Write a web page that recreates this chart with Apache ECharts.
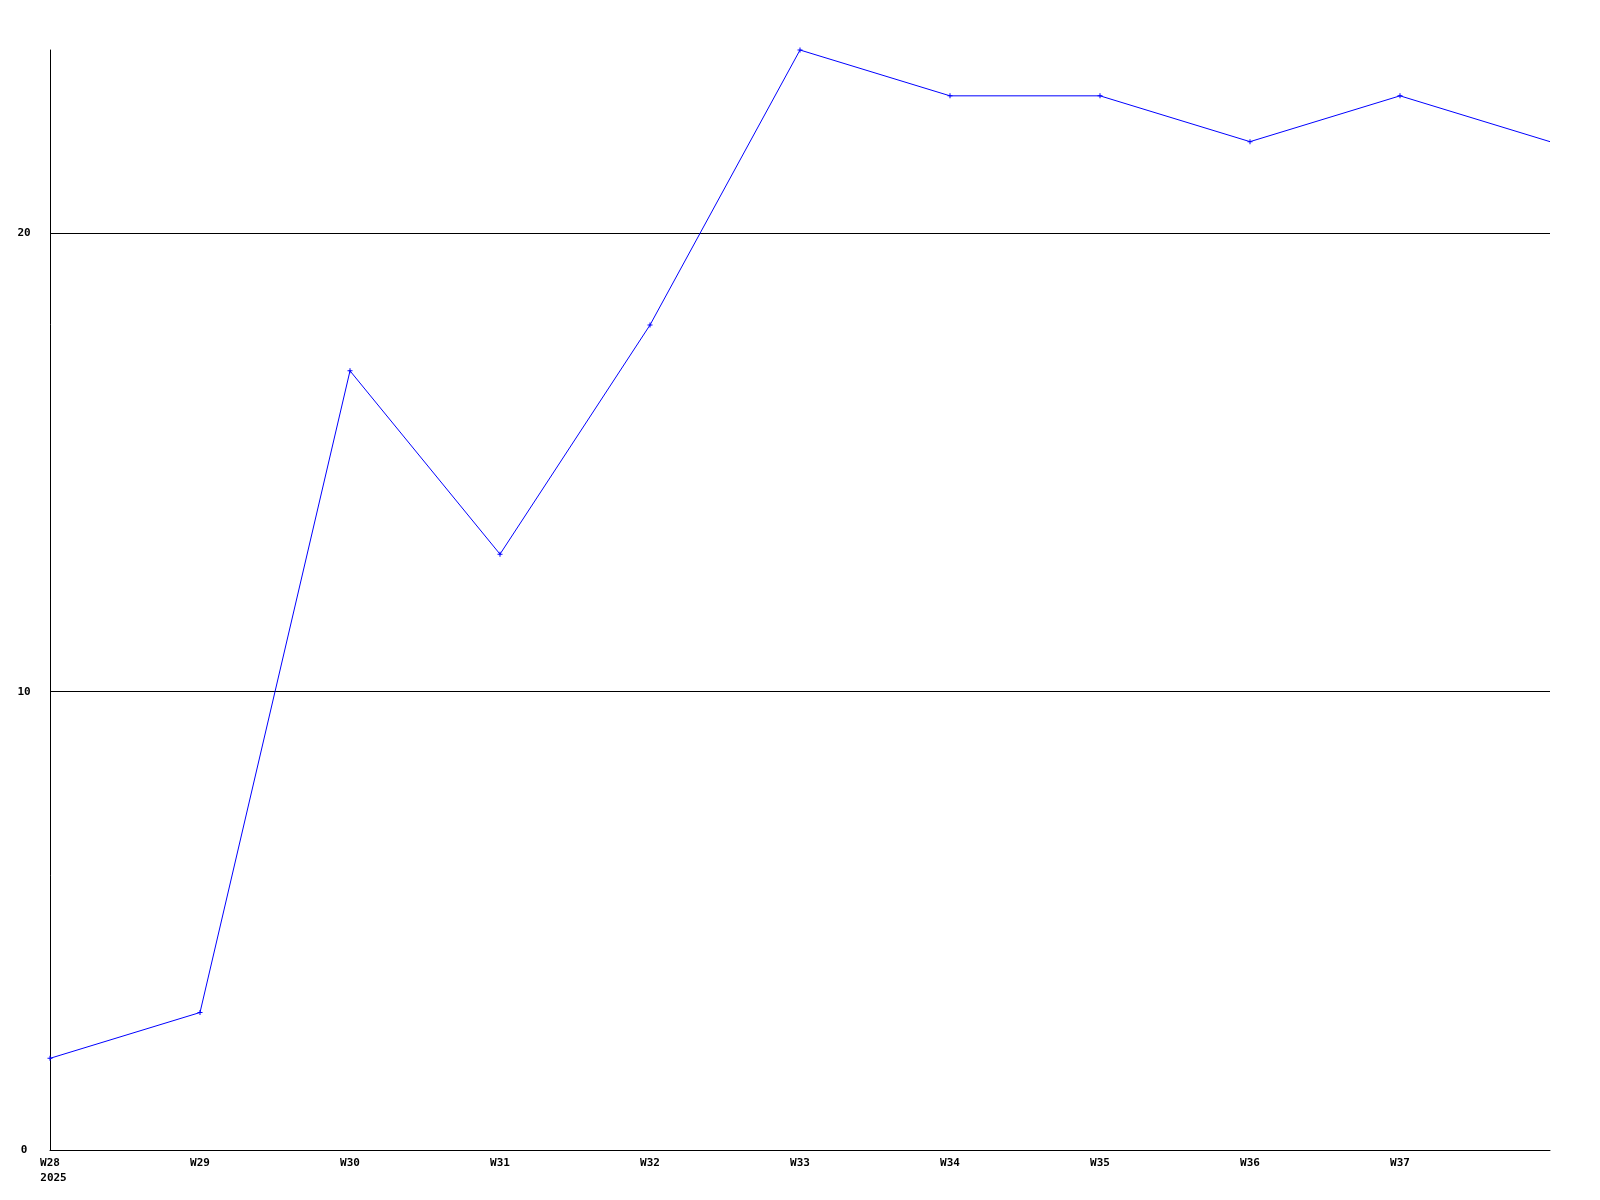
<!DOCTYPE html>
<html>
<head>
<meta charset="utf-8">
<script src="https://cdn.jsdelivr.net/npm/echarts@6/dist/echarts.min.js"></script>
<style>html,body{margin:0;padding:0;background:#fff}#c{width:1600px;height:1200px}</style>
</head>
<body>
<div id="c"></div>
<script>
const categories = ['W28','W29','W30','W31','W32','W33','W34','W35','W36','W37','W38'];
const tickLabels = ['W28\n2025','W29','W30','W31','W32','W33','W34','W35','W36','W37',''];
const values = [2, 3, 17, 13, 18, 24, 23, 23, 22, 23, 22];
const yTicks = [0, 10, 20];

const chart = echarts.init(document.getElementById('c'), null, {renderer: 'canvas'});
const plus = 'path://M2,0L3,0L3,2L5,2L5,3L3,3L3,5L2,5L2,3L0,3L0,2L2,2Z';
const font = {fontFamily: 'DejaVu Sans Mono', fontWeight: 'bold', fontSize: 11, color: '#000'};
chart.setOption({
  animation: false,
  backgroundColor: '#fff',
  grid: {left: 50, right: 50, top: 50, bottom: 50, containLabel: false},
  xAxis: {
    type: 'category',
    data: categories,
    boundaryGap: false,
    axisLine: {show: true, lineStyle: {color: '#000', width: 1}},
    axisTick: {show: false},
    splitLine: {show: false},
    axisLabel: Object.assign({}, font, {
      interval: 0, margin: 6, lineHeight: 15,
      rich: {
        a: Object.assign({}, font, {lineHeight: 15, padding: [0, 7, 0, 7]}),
        b: Object.assign({}, font, {lineHeight: 15, padding: [0, 0, 0, 7]})
      },
      formatter: (v, i) => {
        const lines = tickLabels[i].split('\n');
        return lines.length > 1 ? '{a|' + lines[0] + '}\n{b|' + lines[1] + '}' : lines[0];
      }
    })
  },
  yAxis: {
    type: 'value',
    min: 0, max: 24, interval: 10,
    axisLine: {show: true, lineStyle: {color: '#000', width: 1}},
    axisTick: {show: false},
    splitLine: {show: true, lineStyle: {color: ['#000', '#000', '#000', 'rgba(0,0,0,0)'], width: 1}},
    axisLabel: Object.assign({}, font, {
      align: 'center', margin: 26,
      formatter: v => yTicks.includes(v) ? String(v) : ''
    })
  },
  series: [{
    type: 'line',
    data: values.map((v, i) => i === values.length - 1 ? {value: v, symbol: 'none'} : v),
    symbol: plus,
    symbolSize: 5,
    showSymbol: true,
    lineStyle: {color: '#0000ff', width: 1},
    itemStyle: {color: '#0000ff'}
  }]
});
</script>
</body>
</html>
